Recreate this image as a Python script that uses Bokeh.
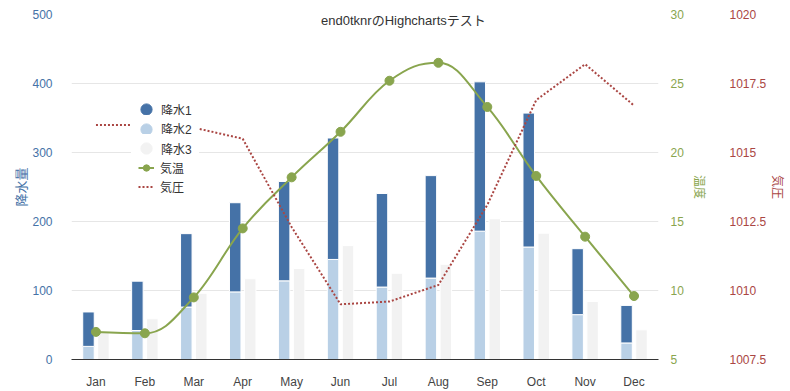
from bokeh.plotting import figure
from bokeh.models import (Range1d, LinearAxis, FixedTicker, SingleIntervalTicker, Legend,
                          LegendItem, ColumnDataSource, Label, PrintfTickFormatter)
from bokeh.transform import dodge
from bokeh.embed import file_html
from bokeh.resources import INLINE

# ---------------- data ----------------
months = ["Jan", "Feb", "Mar", "Apr", "May", "Jun", "Jul", "Aug", "Sep", "Oct", "Nov", "Dec"]
rain1 = [49.9, 71.5, 106.4, 129.2, 144.0, 176.0, 135.6, 148.5, 216.4, 194.1, 95.6, 54.4]
rain2 = [19, 42, 76, 98, 114, 145, 105, 118, 186, 163, 65, 24]
rain3 = [40, 59, 96, 117, 132, 165, 125, 138, 204, 183, 84, 43]
temperature = [7.0, 6.9, 9.5, 14.5, 18.2, 21.5, 25.2, 26.5, 23.3, 18.3, 13.9, 9.6]
pressure = [1016, 1016, 1015.9, 1015.5, 1012.3, 1009.5, 1009.6, 1010.2, 1013.1, 1016.9, 1018.2, 1016.7]
series_names = ["降水1", "降水2", "降水3", "気温", "気圧"]
title_text = "end0tknrのHighchartsテスト"

DARK = "#4572A7"
LIGHT = "#B9D0E6"
GREY = "#F2F2F2"
GREEN = "#89A54E"
RED = "#AA4643"
FONT = "Liberation Sans, Noto Sans CJK JP"

idx = list(range(len(months)))
src = ColumnDataSource(dict(x=idx, r1=rain1, r2=rain2, r3=rain3, t=temperature, pr=pressure))


# Highcharts-style spline control points (curve rendering of the temperature series)
def spline_segments(xs, ys, smoothing=1.5):
    n = len(xs)
    left = [(xs[i], ys[i]) for i in range(n)]
    right = [(xs[i], ys[i]) for i in range(n)]
    d = smoothing + 1
    for i in range(1, n - 1):
        px, py = xs[i], ys[i]
        lx, ly = xs[i - 1], ys[i - 1]
        nx, ny = xs[i + 1], ys[i + 1]
        lcx = (smoothing * px + lx) / d
        lcy = (smoothing * py + ly) / d
        rcx = (smoothing * px + nx) / d
        rcy = (smoothing * py + ny) / d
        if rcx != lcx:
            corr = ((rcy - lcy) * (rcx - px)) / (rcx - lcx) + py - rcy
            lcy += corr
            rcy += corr
        if lcy > ly and lcy > py:
            lcy = max(ly, py); rcy = 2 * py - lcy
        elif lcy < ly and lcy < py:
            lcy = min(ly, py); rcy = 2 * py - lcy
        if rcy > ny and rcy > py:
            rcy = max(ny, py); lcy = 2 * py - rcy
        elif rcy < ny and rcy < py:
            rcy = min(ny, py); lcy = 2 * py - rcy
        left[i] = (lcx, lcy)
        right[i] = (rcx, rcy)
    seg = dict(x0=[], y0=[], x1=[], y1=[], cx0=[], cy0=[], cx1=[], cy1=[])
    for i in range(1, n):
        seg["x0"].append(xs[i - 1]); seg["y0"].append(ys[i - 1])
        seg["x1"].append(xs[i]); seg["y1"].append(ys[i])
        seg["cx0"].append(right[i - 1][0]); seg["cy0"].append(right[i - 1][1])
        seg["cx1"].append(left[i][0]); seg["cy1"].append(left[i][1])
    return seg


p = figure(width=790, height=391, output_backend="svg", toolbar_location=None,
           x_range=Range1d(-0.5, 11.5), y_range=Range1d(0, 500),
           min_border_left=71, min_border_right=132, min_border_top=14, min_border_bottom=32,
           outline_line_color=None)
p.background_fill_color = "white"
p.border_fill_color = "white"

p.extra_y_ranges = {"temp": Range1d(5, 30), "pres": Range1d(1007.5, 1020)}

# grid
p.xgrid.visible = False
p.ygrid.grid_line_color = "#E6E6E6"
p.ygrid.grid_line_width = 1

# x axis
xa = p.xaxis[0]
xa.ticker = FixedTicker(ticks=idx)
xa.major_label_overrides = {i: m for i, m in enumerate(months)}
xa.axis_line_color = "#333333"
xa.axis_line_width = 1
xa.major_tick_line_color = None
xa.minor_tick_line_color = None
xa.major_label_text_color = "#444444"
xa.major_label_text_font = FONT
xa.major_label_text_font_size = "12px"
xa.major_label_standoff = 9

# left axis
ya = p.yaxis[0]
ya.ticker = SingleIntervalTicker(interval=100)
ya.axis_line_color = None
ya.major_tick_line_color = None
ya.minor_tick_line_color = None
ya.major_label_text_color = DARK
ya.major_label_text_font = FONT
ya.major_label_text_font_size = "12px"
ya.major_label_standoff = 13
ya.axis_label = "降水量"
ya.axis_label_text_color = DARK
ya.axis_label_text_font = FONT
ya.axis_label_text_font_size = "13px"
ya.axis_label_text_font_style = "normal"
ya.axis_label_standoff = 0


def right_axis(rng, interval, color, label, lstand, tstand):
    ax = LinearAxis(y_range_name=rng, ticker=SingleIntervalTicker(interval=interval),
                    formatter=PrintfTickFormatter(format="%g"))
    ax.axis_line_color = None
    ax.major_tick_line_color = None
    ax.minor_tick_line_color = None
    ax.major_label_text_color = color
    ax.major_label_text_font = FONT
    ax.major_label_text_font_size = "12px"
    ax.major_label_standoff = lstand
    ax.axis_label = label
    ax.axis_label_text_color = color
    ax.axis_label_text_font = FONT
    ax.axis_label_text_font_size = "12px"
    ax.axis_label_text_font_style = "normal"
    ax.axis_label_standoff = tstand
    return ax


p.add_layout(right_axis("temp", 5, GREEN, "温度", 6, 5), "right")
p.add_layout(right_axis("pres", 2.5, RED, "気圧", 15, 1), "right")

# bars
bw = 0.235
p.vbar_stack(["r2", "r1"], x=dodge("x", -0.153, range=p.x_range), width=bw, source=src,
             color=[LIGHT, DARK], line_color="white", line_width=1)
p.vbar(x=dodge("x", 0.153, range=p.x_range), top="r3", width=bw, source=src,
       fill_color=GREY, line_color="white", line_width=1)

# temperature spline
seg = ColumnDataSource(spline_segments(idx, temperature))
p.bezier(x0="x0", y0="y0", x1="x1", y1="y1", cx0="cx0", cy0="cy0", cx1="cx1", cy1="cy1",
         source=seg, line_color=GREEN, line_width=2, y_range_name="temp")
t_pts = p.scatter(x="x", y="t", source=src, size=9, fill_color=GREEN, line_color=GREEN,
                  y_range_name="temp")

# pressure
p.line(x="x", y="pr", source=src, line_color=RED, line_width=2, line_dash="2 2",
       y_range_name="pres")

# legend proxies (one NaN point each so the legend can draw the glyph)
nan = float("nan")
lg1 = p.scatter(x=[nan], y=[nan], fill_color=DARK, line_color=DARK)
lg2 = p.scatter(x=[nan], y=[nan], fill_color=LIGHT, line_color=LIGHT)
lg3 = p.scatter(x=[nan], y=[nan], fill_color=GREY, line_color=GREY)
lg4 = p.line(x=[nan, nan], y=[nan, nan], line_color=GREEN, line_width=2)
lg5 = p.line(x=[nan, nan], y=[nan, nan], line_color=RED, line_width=2, line_dash="2 2")


def style_legend(lg):
    lg.background_fill_color = "white"
    lg.background_fill_alpha = 1
    lg.border_line_color = None
    lg.margin = 0
    lg.label_text_font = FONT
    lg.label_text_font_size = "12px"
    lg.label_text_color = "#333333"


# one legend per bar series so that the round markers can be large with tight rows
for name, rend, yloc in zip(series_names[:3], [lg1, lg2, lg3], [236, 216.5, 197]):
    lg = Legend(items=[LegendItem(label=name, renderers=[rend])], location=(60, yloc))
    style_legend(lg)
    lg.padding = 0
    lg.glyph_width = 30
    lg.glyph_height = 28
    lg.label_height = 28
    lg.label_width = 38
    lg.spacing = 0
    lg.label_standoff = -1
    p.add_layout(lg, "center")

legend_lines = Legend(items=[
    LegendItem(label=series_names[3], renderers=[lg4, t_pts]),
    LegendItem(label=series_names[4], renderers=[lg5]),
], location=(67, 164))
style_legend(legend_lines)
legend_lines.padding = 2
legend_lines.glyph_width = 16
legend_lines.glyph_height = 17
legend_lines.label_height = 17
legend_lines.spacing = 2
legend_lines.label_standoff = 6
p.add_layout(legend_lines, "center")

# title
p.add_layout(Label(x=6.285, y=491, text=title_text, text_align="center", text_baseline="middle",
                   text_font=FONT, text_font_size="13px", text_color="#333333"))

open("out.html", "w").write(file_html(p, INLINE))
